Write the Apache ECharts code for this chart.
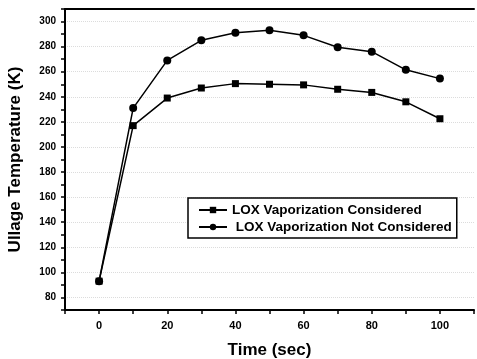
<!DOCTYPE html>
<html>
<head>
<meta charset="utf-8">
<script src="https://cdn.jsdelivr.net/npm/echarts@6/dist/echarts.min.js"></script>
<style>
  html, body { margin: 0; padding: 0; background: #fff; }
  #chart { width: 477px; height: 359px; }
</style>
</head>
<body>
<div id="chart"></div>
<script>
// time (sec)
const times = [0, 10, 20, 30, 40, 50, 60, 70, 80, 90, 100];
// ullage temperature (K)
const vapConsidered = [93, 217, 239, 247, 250.5, 250, 249.5, 246, 243.5, 236, 222.5];
const vapNotConsidered = [93, 231, 269, 285, 291, 293, 289, 279.5, 276, 261.5, 254.5];
const seriesNames = ['LOX Vaporization Considered', ' LOX Vaporization Not Considered'];

const font = 'Liberation Sans, Arial, sans-serif';

function pairs(ys) {
    return times.map((t, i) => [t, ys[i]]);
}

let myChart = echarts.init(document.getElementById('chart'));
let option = {
    animation: false,
    backgroundColor: '#fff',
    grid: {
        left: 65,
        right: 3,
        top: 9,
        bottom: 49,
        outerBoundsMode: 'none'
    },
    legend: {
        orient: 'vertical',
        left: 188,
        top: 198,
        itemWidth: 28,
        itemHeight: 8,
        itemGap: 3,
        padding: [5, 5, 4, 10],
        backgroundColor: '#fff',
        borderColor: '#000',
        borderWidth: 1.5,
        textStyle: {
            fontFamily: font,
            fontWeight: 'bold',
            fontSize: 13.5,
            color: '#000'
        },
        data: seriesNames
    },
    xAxis: [
        {
            type: 'value',
            min: -10,
            max: 110,
            interval: 10,
            name: 'Time (sec)',
            nameLocation: 'middle',
            nameGap: 32,
            nameTextStyle: {
                fontFamily: font,
                fontWeight: 'bold',
                fontSize: 17,
                color: '#000'
            },
            axisLine: { onZero: false, lineStyle: { color: '#000', width: 2 } },
            axisTick: { length: 4, lineStyle: { color: '#000', width: 1.5 } },
            axisLabel: {
                margin: 10,
                fontFamily: font,
                fontWeight: 'bold',
                fontSize: 11,
                color: '#000',
                formatter: function (v) {
                    return v % 20 === 0 && v >= 0 && v <= 100 ? v : '';
                }
            },
            splitLine: { show: false }
        },
        {
            type: 'value',
            position: 'top',
            min: -10,
            max: 110,
            axisLine: { show: true, onZero: false, lineStyle: { color: '#000', width: 2 } },
            axisTick: { show: false },
            axisLabel: { show: false },
            splitLine: { show: false }
        }
    ],
    yAxis: {
        type: 'value',
        min: 70,
        max: 310,
        interval: 10,
        name: 'Ullage Temperature (K)',
        nameLocation: 'middle',
        nameGap: 41,
        nameTextStyle: {
            fontFamily: font,
            fontWeight: 'bold',
            fontSize: 17,
            color: '#000'
        },
        axisLine: { show: true, onZero: false, lineStyle: { color: '#000', width: 2 } },
        axisTick: { length: 4, lineStyle: { color: '#000', width: 1.5 } },
        axisLabel: {
            margin: 9,
            fontFamily: font,
            fontWeight: 'bold',
            fontSize: 10,
            color: '#000',
            formatter: function (v) {
                return v % 20 === 0 && v >= 80 && v <= 300 ? v : '';
            }
        },
        splitLine: {
            show: true,
            lineStyle: { color: ['rgba(0,0,0,0)', '#dcdcdc'], type: 'dotted', width: 1 }
        }
    },
    series: [
        {
            name: seriesNames[0],
            type: 'line',
            data: pairs(vapConsidered),
            symbol: 'rect',
            symbolSize: 7,
            showAllSymbol: true,
            lineStyle: { color: '#000', width: 1.5 },
            itemStyle: { color: '#000' }
        },
        {
            name: seriesNames[1],
            type: 'line',
            data: pairs(vapNotConsidered),
            symbol: 'circle',
            symbolSize: 8,
            showAllSymbol: true,
            lineStyle: { color: '#000', width: 1.5 },
            itemStyle: { color: '#000' }
        }
    ]
};
myChart.setOption(option, true);
</script>
</body>
</html>
